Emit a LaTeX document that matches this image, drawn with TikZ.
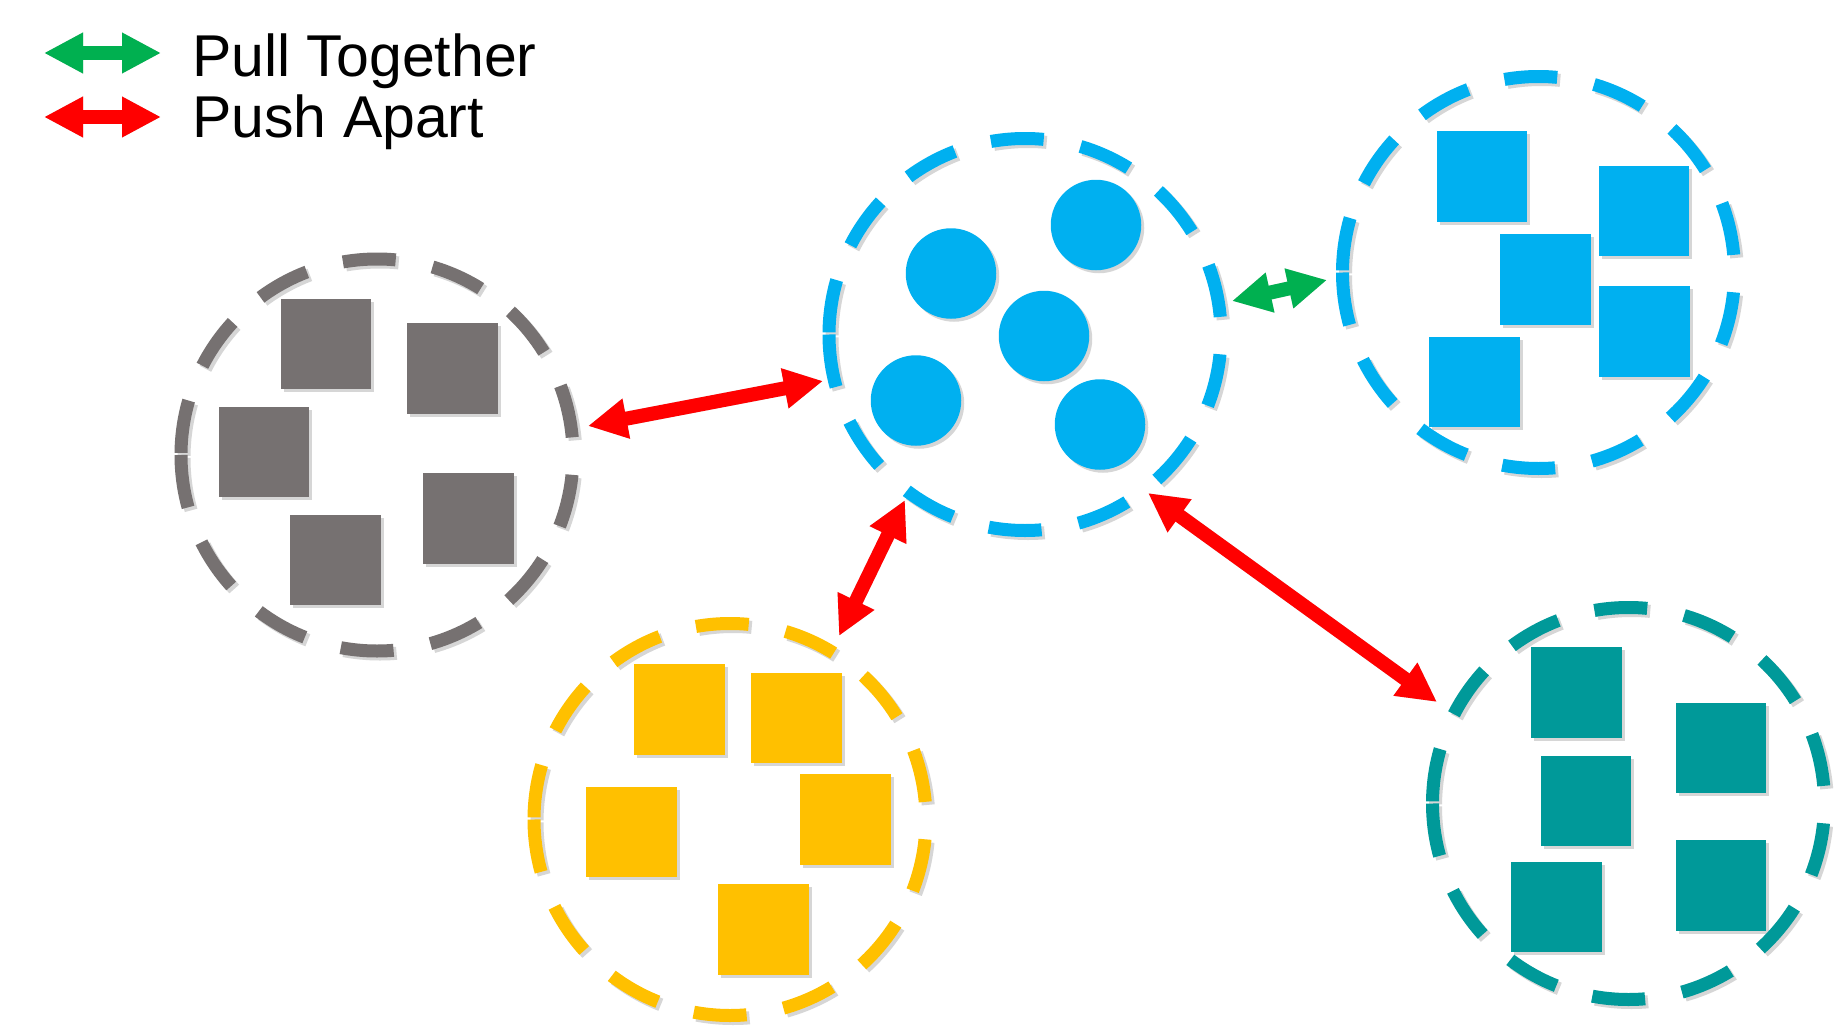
\documentclass[tikz,border=0pt]{standalone}
\usepackage{fontspec}
\setmainfont{Liberation Sans}
\usetikzlibrary{arrows.meta,calc,shadows}
\definecolor{cgray}{HTML}{767171}
\definecolor{cblue}{HTML}{00B0F0}
\definecolor{cyellow}{HTML}{FFC000}
\definecolor{cteal}{HTML}{009999}
\definecolor{cgreen}{HTML}{00B050}
\definecolor{cred}{HTML}{FF0000}
\definecolor{cshadow}{gray}{0.84}
\tikzset{
  ring/.style={circle, draw=#1, line width=13pt, minimum size=392pt,
    inner sep=0pt, outer sep=0pt, rotate=180,
    dash pattern=on 53pt off 37.5pt},
  sq/.style={rectangle, fill=#1, minimum size=90.5pt, inner sep=0pt,
    drop shadow={shadow xshift=3pt, shadow yshift=-3pt, fill=black, opacity=0.16}},
  dot/.style={circle, fill=#1, minimum size=90.5pt, inner sep=0pt,
    drop shadow={shadow xshift=3pt, shadow yshift=-3pt, fill=black, opacity=0.16}},
  conn/.style={draw=#1, line width=14pt,
    {Triangle[length=39pt,width=38pt]}-{Triangle[length=39pt,width=38pt]}},
  legtext/.style={anchor=base west, inner sep=0pt, font=\fontsize{59}{70}\selectfont},
}
\begin{document}
\begin{tikzpicture}[x=1pt,y=-1pt]
\fill[white] (0,0) rectangle (1845,1036);
\useasboundingbox (0,0) rectangle (1845,1036);

% ring centres
\coordinate (cg) at (377,455);
\coordinate (cy) at (730,819.5);
\coordinate (cb) at (1025,334.5);
\coordinate (cr) at (1538.5,272.5);
\coordinate (ct) at (1628.5,803.5);

% connector end points
\coordinate (l1a) at (44,53);   \coordinate (l1b) at (161,53);
\coordinate (l2a) at (44,117);  \coordinate (l2b) at (161,117);
\coordinate (a1a) at (588,426); \coordinate (a1b) at (823,381);
\coordinate (a2a) at (905,500); \coordinate (a2b) at (839,636);
\coordinate (a3a) at (1148,493);\coordinate (a3b) at (1437,702);
\coordinate (a4a) at (1232,301);\coordinate (a4b) at (1327,280);

% shadows
\foreach \c in {cg,cy,cb,cr,ct}{
  \node[ring=cshadow] at ($(\c)+(3,3)$) {};
}
\begin{scope}[shift={(3,3)}]
  \draw[conn=cshadow] (l1a) -- (l1b);
  \draw[conn=cshadow] (l2a) -- (l2b);
  \draw[conn=cshadow] (a1a) -- (a1b);
  \draw[conn=cshadow] (a2a) -- (a2b);
  \draw[conn=cshadow] (a3a) -- (a3b);
  \draw[conn=cshadow] (a4a) -- (a4b);
\end{scope}

% gray cluster
\node[sq=cgray] (g1) at (326,344) {};
\node[sq=cgray] (g2) at (452.5,368.5) {};
\node[sq=cgray] (g3) at (264,452) {};
\node[sq=cgray] (g4) at (468.5,518.5) {};
\node[sq=cgray] (g5) at (335.5,560) {};
\node[ring=cgray] (grayring) at (cg) {};

% yellow cluster
\node[sq=cyellow] (y1) at (679.5,709.5) {};
\node[sq=cyellow] (y2) at (796.5,718) {};
\node[sq=cyellow] (y3) at (631.5,832) {};
\node[sq=cyellow] (y4) at (845.5,819.5) {};
\node[sq=cyellow] (y5) at (763.5,929.5) {};
\node[ring=cyellow] (yellowring) at (cy) {};

% central blue cluster (dots)
\node[dot=cblue] (d1) at (1096,225) {};
\node[dot=cblue] (d2) at (951,273.5) {};
\node[dot=cblue] (d3) at (1044,336) {};
\node[dot=cblue] (d4) at (916,400.5) {};
\node[dot=cblue] (d5) at (1100,424.5) {};
\node[ring=cblue] (bluering) at (cb) {};

% right blue cluster
\node[sq=cblue] (s1) at (1482,176.5) {};
\node[sq=cblue] (s2) at (1644,211) {};
\node[sq=cblue] (s3) at (1545.5,279.5) {};
\node[sq=cblue] (s4) at (1644.5,331.5) {};
\node[sq=cblue] (s5) at (1474.5,382) {};
\node[ring=cblue] (rightring) at (cr) {};

% teal cluster
\node[sq=cteal] (t1) at (1576.5,692.5) {};
\node[sq=cteal] (t2) at (1721,748) {};
\node[sq=cteal] (t3) at (1586,801) {};
\node[sq=cteal] (t4) at (1556.5,907) {};
\node[sq=cteal] (t5) at (1721,885.5) {};
\node[ring=cteal] (tealring) at (ct) {};

% connectors
\draw[conn=cred] (a1a) -- (a1b);
\draw[conn=cred] (a2a) -- (a2b);
\draw[conn=cred] (a3a) -- (a3b);
\draw[conn=cgreen] (a4a) -- (a4b);

% legend
\draw[conn=cgreen] (l1a) -- (l1b);
\draw[conn=cred] (l2a) -- (l2b);
\node[legtext] (pull) at (192,76) {Pull Together};
\node[legtext] (push) at (192,137) {Push Apart};
\end{tikzpicture}
\end{document}
